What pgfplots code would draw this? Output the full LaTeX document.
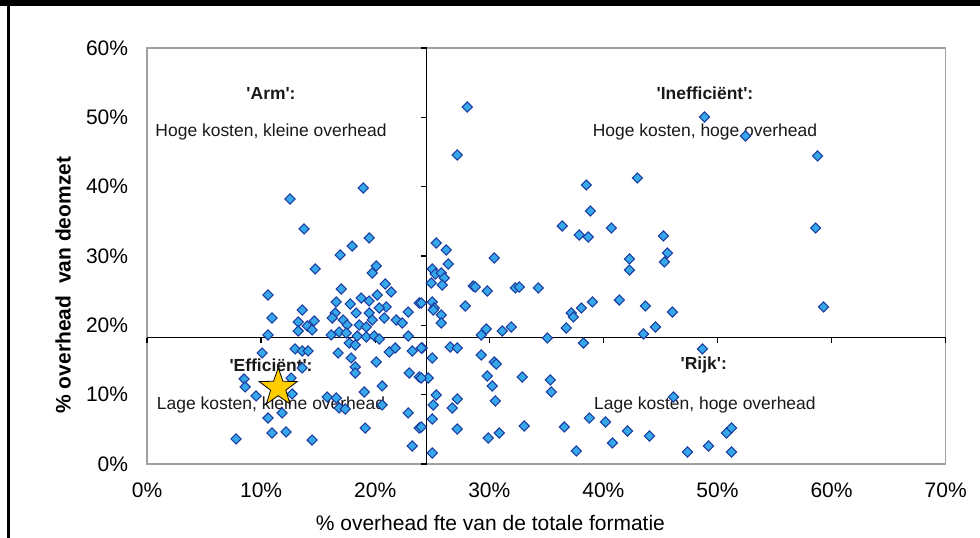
\documentclass[border=0pt]{standalone}
\usepackage{pgfplots}
\pgfplotsset{compat=1.18}
\usepackage{fontspec}
\setmainfont{Liberation Sans}[Ligatures=TeXOff]
\usetikzlibrary{shapes.geometric}
\definecolor{mfill}{RGB}{52,168,232}
\definecolor{mdraw}{RGB}{30,60,160}
\definecolor{boxgray}{RGB}{160,160,160}
\definecolor{stargold}{RGB}{255,204,0}
\definecolor{txt}{RGB}{25,25,25}
\pgfdeclareplotmark{goldstar}{\node[star,star points=5,star point ratio=2.5,draw=black,fill=stargold,line width=0.6pt,inner sep=0pt,minimum size=30pt]{};}
\pgfplotstableread{
x y
12.54 38.22
18.95 39.81
13.77 33.90
19.47 32.60
17.98 31.44
16.93 30.15
14.74 28.13
20.09 28.56
19.74 27.55
25.00 28.13
24.91 26.11
10.61 24.38
17.02 25.24
20.88 25.96
21.40 24.81
13.60 22.21
10.96 21.06
13.25 20.48
14.65 20.63
13.25 19.18
14.04 19.90
14.47 19.33
16.58 23.37
17.81 23.08
18.77 23.94
19.47 23.51
20.18 24.38
20.96 22.65
22.89 21.92
23.86 23.22
25.00 23.37
25.18 22.50
16.49 21.78
17.19 20.77
18.33 21.78
19.47 21.78
20.35 22.50
19.74 20.77
20.79 21.06
21.84 20.77
22.37 20.34
16.23 21.06
17.54 20.05
18.60 20.05
19.21 19.76
16.84 19.04
16.14 18.61
17.46 18.90
18.42 18.46
19.21 18.32
19.91 18.46
10.61 18.61
22.89 18.46
20.35 18.03
17.72 17.45
18.25 17.16
10.09 16.01
12.98 16.59
13.60 16.30
14.12 16.30
16.75 16.01
17.89 15.29
20.09 14.71
21.23 16.15
21.75 16.73
23.25 16.30
24.12 16.73
25.00 15.29
18.25 13.99
18.25 13.13
13.60 13.85
8.51 12.26
8.60 11.11
9.56 9.81
12.63 12.40
12.72 10.10
11.84 7.36
10.61 6.63
22.98 13.13
23.86 12.55
24.65 12.40
20.61 11.25
19.04 10.39
15.79 9.66
16.58 9.52
16.84 8.08
17.37 7.93
20.61 8.51
22.89 7.36
25.00 6.49
23.86 5.19
19.12 5.19
10.96 4.47
12.19 4.62
14.47 3.46
7.81 3.61
23.25 2.60
25.00 1.59
25.35 9.95
25.09 8.51
28.07 51.49
27.19 44.57
48.86 50.05
38.51 40.24
42.98 41.25
38.86 36.49
36.40 34.33
37.89 33.03
38.68 32.74
40.70 34.04
45.26 32.89
45.61 30.43
25.35 31.88
26.23 30.87
30.44 29.71
42.28 29.57
26.40 28.85
52.46 47.31
58.77 44.43
58.60 34.04
25.26 27.40
25.79 27.55
26.05 26.83
25.88 25.82
28.60 25.67
28.77 25.53
29.82 24.95
32.28 25.39
32.63 25.53
34.30 25.39
42.28 27.98
45.35 29.14
24.04 23.22
25.09 22.21
25.79 21.49
25.79 20.34
27.89 22.79
37.19 21.78
37.37 21.20
38.07 22.50
39.04 23.37
41.40 23.65
43.68 22.79
46.05 21.92
36.75 19.62
44.56 19.76
43.51 18.75
29.30 18.61
29.74 19.47
31.14 19.18
31.93 19.76
35.09 18.17
38.25 17.45
24.04 16.73
26.58 16.88
27.19 16.73
29.30 15.72
30.44 14.71
30.61 14.42
48.68 16.59
24.04 12.40
29.82 12.69
30.26 11.25
32.89 12.55
35.35 12.12
35.44 10.39
27.19 9.38
26.75 8.08
30.53 9.09
46.14 9.66
24.04 5.34
27.19 5.05
29.91 3.75
30.88 4.47
33.07 5.48
36.58 5.34
38.77 6.63
40.18 6.06
42.11 4.76
44.04 4.04
40.79 3.03
37.63 1.88
47.37 1.73
49.21 2.60
59.30 22.65
51.23 5.19
50.79 4.47
51.23 1.73
}\pointdata
\begin{document}
\begin{tikzpicture}[x=1pt,y=1pt]
\useasboundingbox (0,0) rectangle (735,403.5);
\fill[black] (0,399) rectangle (735,403.5);
\fill[black] (5.5,0) rectangle (7.5,399);
\begin{axis}[
  at={(110.25pt,55.5pt)}, anchor=south west,
  scale only axis, width=599pt, height=312pt,
  xmin=0, xmax=70, ymin=0, ymax=60,
  xtick={0,10,20,30,40,50,60,70},
  xticklabels={0\%,10\%,20\%,30\%,40\%,50\%,60\%,70\%},
  ytick={0,10,20,30,40,50,60},
  yticklabels={0\%,10\%,20\%,30\%,40\%,50\%,60\%},
  major tick length=0pt, tick style={draw=none},
  axis line style={boxgray, line width=1.1pt},
  ticklabel style={font=\fontsize{15.75}{18}\selectfont, text=black},
  xticklabel style={anchor=center, inner sep=0pt, yshift=-19.5pt},
  yticklabel style={anchor=east, inner sep=0pt, xshift=-14pt},
  xlabel={\% overhead fte van de totale formatie},
  xlabel style={at={(rel axis cs:0.43,-0.142)}, anchor=center, font=\fontsize{15.75}{18}\selectfont},
  ylabel={\textbf{\% overhead\ \ van deomzet}},
  ylabel style={at={(rel axis cs:-0.105,0.43)}, anchor=center, font=\fontsize{15.75}{18}\selectfont},
  clip=false,
]
\draw[black, line width=1pt] (axis cs:0,18.2) -- (axis cs:70,18.2);
\draw[black, line width=1pt] (axis cs:24.5,0) -- (axis cs:24.5,60);
\pgfplotsinvokeforeach{0,10,20,30,40,50,60,70}{\draw[black, line width=1pt] (axis cs:#1,18.2) -- ++(0,-4.2pt);}
\pgfplotsinvokeforeach{0,10,20,30,40,50,60}{\draw[black, line width=1pt] (axis cs:24.5,#1) -- ++(-4.2pt,0);}
\addplot[only marks, mark=square*, mark size=2.7pt,
  mark options={rotate=45, fill=mfill, draw=mdraw, line width=0.8pt}]
  table[x=x, y=y] {\pointdata};
\begin{scope}[every node/.style={font=\fontsize{13.1}{15}\selectfont, text=txt, inner sep=0pt, anchor=center}]
\node at (axis cs:10.87,53.51) {\textbf{'Arm':}};
\node at (axis cs:10.87,47.89) {Hoge kosten, kleine overhead};
\node at (axis cs:48.9,53.51) {\textbf{'Inefficiënt':}};
\node at (axis cs:48.9,47.89) {Hoge kosten, hoge overhead};
\node at (axis cs:10.87,14.28) {\textbf{'Efficiënt':}};
\node at (axis cs:10.87,8.51) {Lage kosten, kleine overhead};
\node at (axis cs:48.8,14.28) {\textbf{'Rijk':}};
\node at (axis cs:48.9,8.51) {Lage kosten, hoge overhead};
\end{scope}
\addplot[only marks, mark=goldstar] coordinates {(11.5,11.0)};
\end{axis}
\end{tikzpicture}
\end{document}
